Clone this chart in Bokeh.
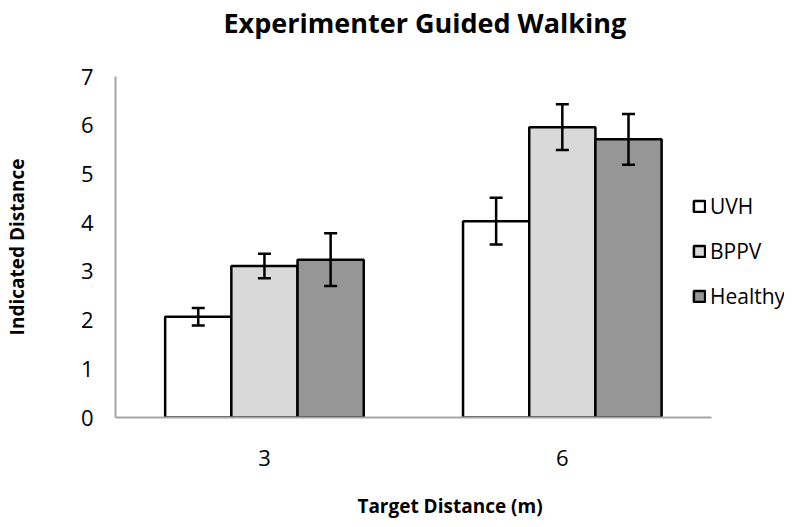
from bokeh.plotting import figure
from bokeh.models import ColumnDataSource, Range1d, FixedTicker, Whisker, TeeHead, Legend, LegendItem, Title
from bokeh.embed import file_html
from bokeh.resources import INLINE

categories = ["3", "6"]
groups = ["UVH", "BPPV", "Healthy"]
uvh = [2.07, 4.03]
uvh_err = [0.18, 0.48]
bppv = [3.11, 5.96]
bppv_err = [0.25, 0.47]
healthy = [3.24, 5.71]
healthy_err = [0.54, 0.52]
y_ticks = [0, 1, 2, 3, 4, 5, 6, 7]

colors = ["#ffffff", "#d9d9d9", "#969696"]
FONT = "Open Sans"

n_cat = len(categories)
centers = [i + 0.5 for i in range(n_cat)]

p = figure(title=None, x_range=Range1d(0, 676 / 301), y_range=Range1d(0, 7),
           width=784, height=522, output_backend="svg", toolbar_location=None,
           min_border_left=108, min_border_top=76, min_border_bottom=105, min_border_right=0)

# spacer panel between frame and title
spacer = Title(text=" ", text_font_size="1px", standoff=33)
p.add_layout(spacer, "above")
title = Title(text="Experimenter Guided Walking", text_font=FONT, text_font_size="27px",
              text_font_style="bold", text_color="#000000", align="left", offset=108, standoff=0)
p.add_layout(title, "above")

p.xgrid.visible = False
p.ygrid.visible = False
p.outline_line_color = None

for ax in (p.xaxis[0], p.yaxis[0]):
    ax.axis_line_color = "#a6a6a6"
    ax.axis_line_width = 2
    ax.major_tick_line_color = None
    ax.minor_tick_line_color = None
    ax.major_tick_in = 0
    ax.major_tick_out = 0
    ax.major_label_text_font = FONT
    ax.major_label_text_font_size = "22px"
    ax.major_label_text_color = "#000000"
    ax.axis_label_text_font = FONT
    ax.axis_label_text_font_style = "bold"
    ax.axis_label_text_font_size = "19px"
    ax.axis_label_text_color = "#000000"

p.yaxis.ticker = FixedTicker(ticks=y_ticks)
p.yaxis.major_label_standoff = 22
p.yaxis.axis_label = "Indicated Distance"
p.yaxis.axis_label_standoff = 48
p.xaxis.ticker = FixedTicker(ticks=centers)
p.xaxis.major_label_overrides = {c: lab for c, lab in zip(centers, categories)}
p.xaxis.bounds = (0, n_cat)
p.xaxis.major_label_standoff = 32
p.xaxis.axis_label = "Target Distance (m)"
p.xaxis.axis_label_standoff = 24

series = [(uvh, uvh_err), (bppv, bppv_err), (healthy, healthy_err)]
offsets = [-0.2222, 0.0, 0.2222]
items = []
for name, (vals, errs), off, col in zip(groups, series, offsets, colors):
    xs = [c + off for c in centers]
    src = ColumnDataSource(dict(x=xs, top=vals,
                                upper=[v + e for v, e in zip(vals, errs)],
                                lower=[v - e for v, e in zip(vals, errs)]))
    r = p.vbar(x="x", top="top", width=0.2222, source=src,
               fill_color=col, line_color="#000000", line_width=2.5)
    w = Whisker(base="x", upper="upper", lower="lower", source=src,
                line_color="#000000", line_width=2.5, level="overlay",
                upper_head=TeeHead(size=13, line_width=2.5, line_color="#000000"),
                lower_head=TeeHead(size=13, line_width=2.5, line_color="#000000"))
    p.add_layout(w)
    items.append(LegendItem(label=name, renderers=[r]))

legend = Legend(items=items, location=(577, 107), padding=0, margin=0,
                border_line_color=None, background_fill_alpha=0,
                glyph_width=14, glyph_height=14, label_height=20, spacing=17,
                label_standoff=4, label_text_font=FONT, label_text_font_size="21px",
                label_text_color="#000000")
p.add_layout(legend, "center")

open("out.html", "w").write(file_html(p, INLINE))
